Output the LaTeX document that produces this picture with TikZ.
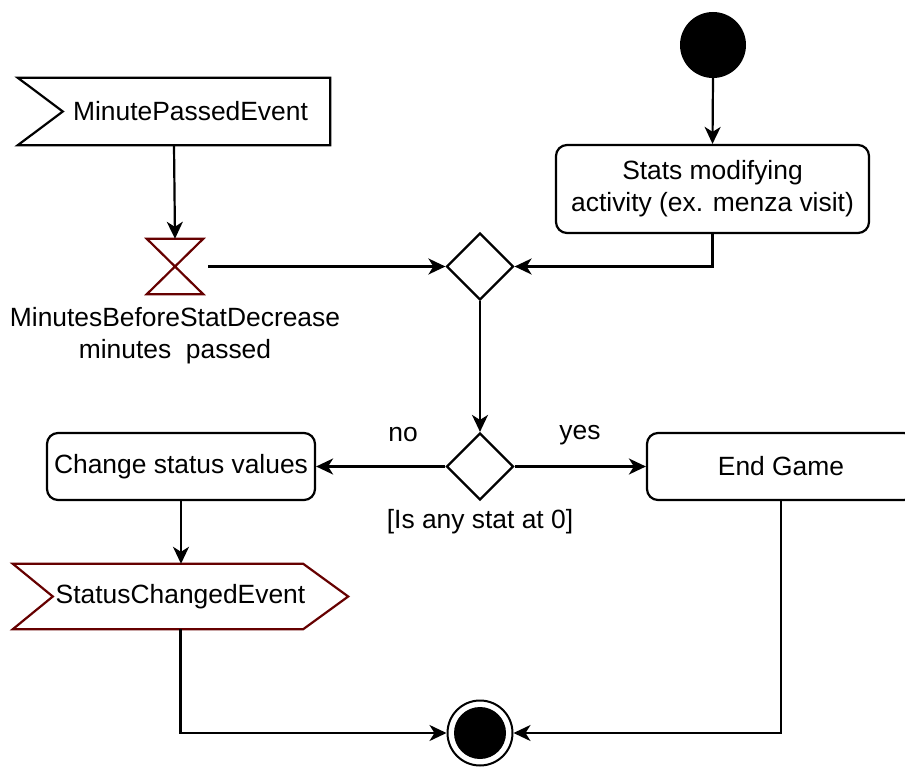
\documentclass[tikz,border=0pt]{standalone}
\usepackage{fontspec}
\setmainfont{Liberation Sans}
\usetikzlibrary{arrows.meta,shapes.geometric}
\definecolor{eventred}{RGB}{102,0,0}
\tikzset{
  every node/.style={font=\fontsize{26.4}{31.7}\selectfont, inner sep=0pt},
  flow/.style={line width=2.2pt, draw=black},
  arr/.style={flow, -{Stealth[length=17pt,width=16pt,inset=5pt]}},
  actbox/.style={draw, line width=2.2pt, rounded corners=11pt, align=center},
  decision/.style={draw, line width=2.2pt, diamond, minimum width=67pt, minimum height=67pt},
  outline/.style={line width=2.2pt, line join=miter},
  plain/.style={align=center}
}
\begin{document}
\begin{tikzpicture}[x=1pt,y=-1pt]
\useasboundingbox (0,0) rectangle (905,767);
\clip (0,0) rectangle (905,767);

% initial node
\node[circle, fill=black, minimum size=66pt] (start) at (713,45) {};

% activity box
\node[actbox, minimum width=313pt, minimum height=88pt] (stats) at (712.5,189)
  {Stats modifying\\activity (ex. menza visit)};

% accept event (notched left side)
\node[minimum width=312pt, minimum height=67pt] (mpe) at (174,111.5) {};
\draw[outline] (mpe.north west) -- (mpe.north east) -- (mpe.south east)
  -- (mpe.south west) -- ([xshift=45pt]mpe.west) -- cycle;
\node (mpetext) at (190.5,111.5) {MinutePassedEvent};

% time event (hourglass)
\node[minimum width=56pt, minimum height=55pt] (hg) at (175,266.5) {};
\draw[outline, draw=eventred] (hg.north west) -- (hg.north east)
  -- (hg.south west) -- (hg.south east) -- cycle;
\node[plain] (hglabel) at (175,336) {MinutesBeforeStatDecrease\\minutes\ \ passed};

% merge and decision
\node[decision] (merge) at (480,266.5) {};
\node[decision] (check) at (480,466.5) {};
\node (guard) at (480,522) {[Is any stat at 0]};
\node (no) at (403,435) {no};
\node (yes) at (580,435) {yes};

% actions
\node[actbox, minimum width=268pt, minimum height=67pt] (change) at (181,466.5) {Change status values};
\node[actbox, minimum width=268pt, minimum height=67pt] (endgame) at (781,466.5) {End Game};

% send signal (pointed right side)
\node[minimum width=335pt, minimum height=65pt] (sce) at (180.5,596.5) {};
\draw[outline, draw=eventred] (sce.north west) -- ([xshift=-45pt]sce.north east)
  -- (sce.east) -- ([xshift=-45pt]sce.south east) -- (sce.south west)
  -- ([xshift=40pt]sce.west) -- cycle;
\node (scetext) at (180.5,596.5) {StatusChangedEvent};

% final node
\node[circle, draw, line width=2pt, minimum size=65pt,
  path picture={\fill (path picture bounding box.center) circle (26pt);}] (final) at (480,733) {};

% connectors
\draw[arr] (start.south) -- (stats.north);
\draw[arr] (stats.south) |- (merge.east);
\draw[arr] (mpe.south) -- (hg.north);
\draw[arr] ([xshift=5pt]hg.east) -- (merge.west);
\draw[arr] (merge.south) -- (check.north);
\draw[arr] (check.west) -- (change.east);
\draw[arr] (check.east) -- (endgame.west);
\draw[arr] (change.south) -- (change.south |- sce.north);
\draw[arr] (sce.south) |- (final.west);
\draw[arr] (endgame.south) |- (final.east);
\end{tikzpicture}
\end{document}
